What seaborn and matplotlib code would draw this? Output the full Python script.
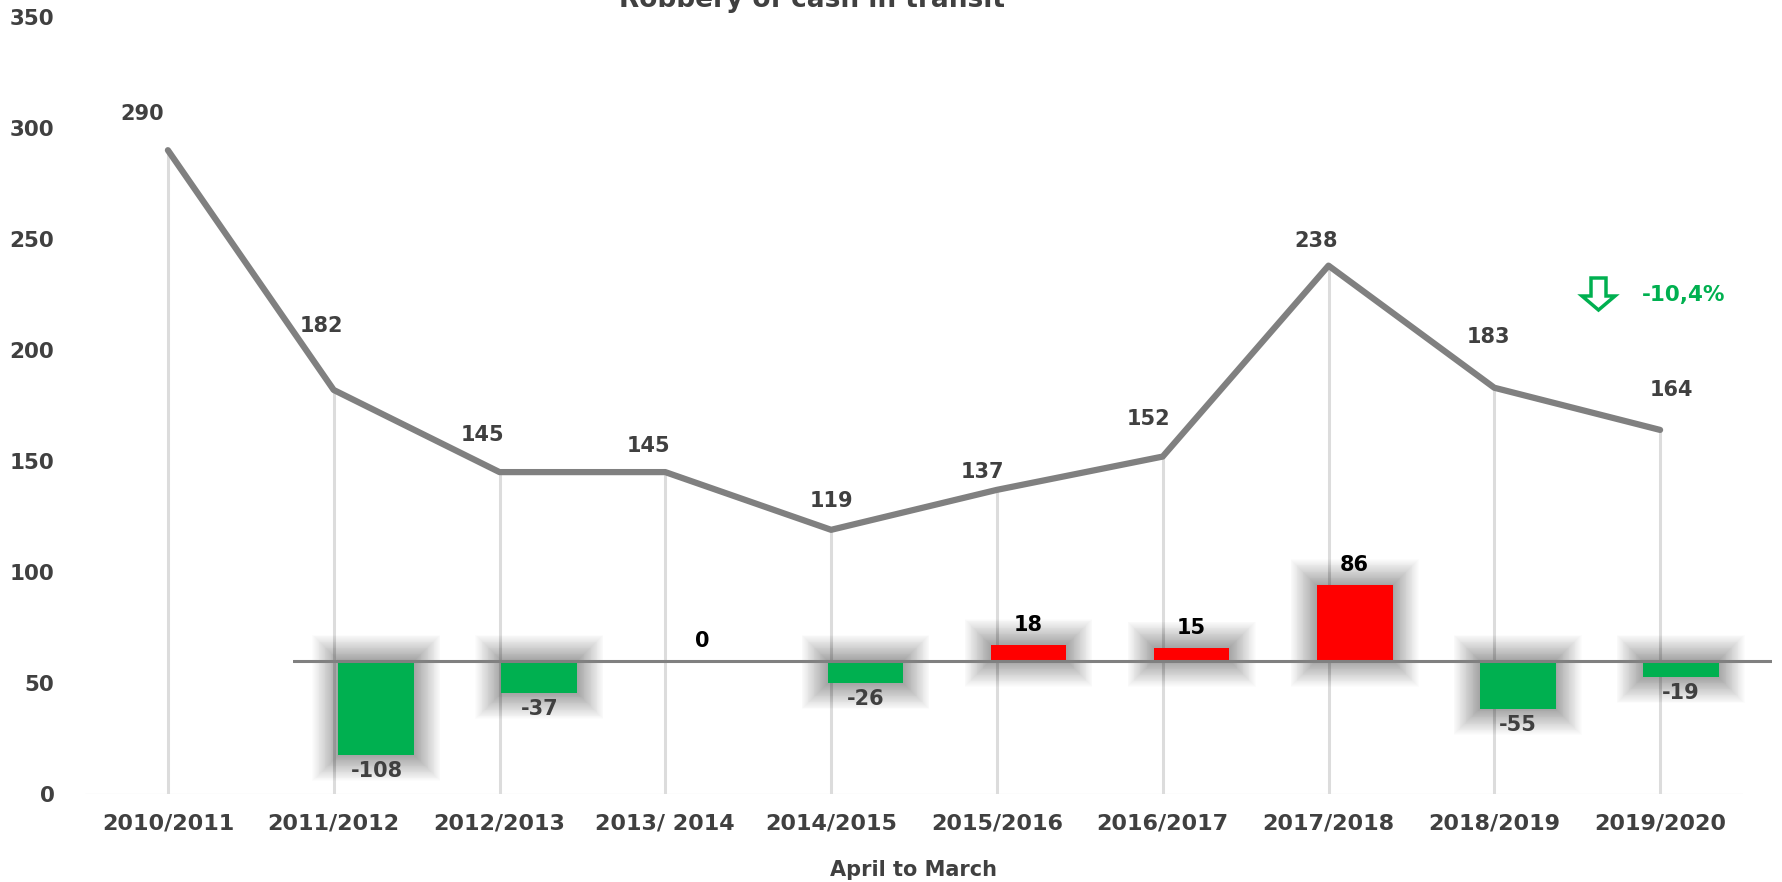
import matplotlib
matplotlib.use("Agg")
import matplotlib.pyplot as plt
import numpy as np
import pandas as pd
import seaborn as sns
from matplotlib.patches import Polygon

periods = ["2010/2011", "2011/2012", "2012/2013", "2013/ 2014", "2014/2015",
           "2015/2016", "2016/2017", "2017/2018", "2018/2019", "2019/2020"]
robberies = [290, 182, 145, 145, 119, 137, 152, 238, 183, 164]
changes = [-108, -37, 0, -26, 18, 15, 86, -55, -19]
trend_text = "-10,4%"

# label offsets in pixels (dx, dy) for the line labels
line_label_offsets = [(-26, 36), (-12, 64), (-17, 37), (-17, 26), (0, 29),
                      (-14, 18), (-14, 38), (-12, 25), (-6, 51), (11, 40)]

GREY = "#808080"
TEXT = "#404040"
GREEN = "#00b050"
RED = "#ff0000"
W, H = 1783, 882

sns.set_theme(style="white")
plt.rcParams["font.family"] = ["DejaVu Sans"]

fig = plt.figure(figsize=(W / 100, H / 100), dpi=100)
bottom = (H - 794) / H
height = 777 / H
ax = fig.add_axes([85 / W, bottom, (1743 - 85) / W, height])
ax2 = fig.add_axes([293 / W, bottom, (1772 - 293) / W, height])
ax2.patch.set_alpha(0)

x = np.arange(len(periods))
df = pd.DataFrame({"pos": x, "period": periods, "count": robberies})

# drop lines from each point to the axis
ax.vlines(df["pos"], 0, df["count"], color="#dcdcdc", lw=2.2, zorder=1)
sns.lineplot(data=df, x="pos", y="count", ax=ax, color=GREY, lw=4.5, zorder=3)
ax.axhline(0, color="#f0f0f0", lw=1, zorder=0)

for xi, yi, (dx, dy) in zip(x, robberies, line_label_offsets):
    ax.annotate(str(yi), (xi, yi), xytext=(dx, dy), textcoords="offset pixels",
                ha="center", va="center", fontsize=15, fontweight="bold", color=TEXT)

ax.set_xlim(-0.5, 9.5)
ax.set_ylim(0, 350)
ax.set_xticks(x)
ax.set_xticklabels(periods)
ax.set_yticks(range(0, 351, 50))
ax.tick_params(axis="x", length=0, pad=14, labelsize=16, labelcolor=TEXT)
ax.tick_params(axis="y", length=0, pad=22, labelsize=15.5, labelcolor=TEXT)
for lab in ax.get_xticklabels() + ax.get_yticklabels():
    lab.set_fontweight("bold")
ax.set_xlabel("April to March", fontsize=15, fontweight="bold", color=TEXT, va="center")
ax.xaxis.set_label_coords(0.5, -0.098)
ax.set_ylabel("")
sns.despine(ax=ax, left=True, bottom=True)

# change bars on their own axes
dfc = pd.DataFrame({"period": periods[1:], "change": changes,
                    "dir": ["up" if c >= 0 else "down" for c in changes]})
sns.barplot(data=dfc, x="period", y="change", hue="dir", palette={"up": RED, "down": GREEN},
            dodge=False, width=0.466, legend=False, ax=ax2, saturation=1,
            linewidth=0, edgecolor="none", zorder=2)

# soft shadow around the bars
px_x, px_y = 1 / 163, 1 / 0.875
for j, c in enumerate(changes):
    if c == 0:
        continue
    for s in np.linspace(1, 26, 30):
        lo, hi = min(0, c) - s * px_y, max(0, c) + s * px_y
        ax2.bar(j, hi - lo, bottom=lo, width=0.466 + 2 * s * px_x,
                color="black", alpha=0.011, lw=0, zorder=1)

ax2.axhline(0, color=GREY, lw=2.2, zorder=3)
for j, c in enumerate(changes):
    off = -16 if c < 0 else 20
    ax2.annotate(str(c), (j, c), xytext=(0, off), textcoords="offset pixels",
                 ha="center", va="center", fontsize=15, fontweight="bold",
                 color=TEXT if c < 0 else "black")
ax2.set_xlim(-0.512, 8.561)
ax2.set_ylim(-152.5, 736)
ax2.axis("off")

# title, partly cut at the top like the original
fig.text(812 / W, 1 - 7 / H, "Robbery of cash in transit", ha="center", va="baseline",
         fontsize=19, fontweight="bold", color=TEXT)

# trend marker
pts = [(1591, 278), (1606, 278), (1606, 296), (1615, 296), (1598.5, 310),
       (1582, 296), (1591, 296)]
arrow = Polygon([(px / W, 1 - py / H) for px, py in pts], closed=True,
                transform=fig.transFigure, facecolor="white", edgecolor=GREEN, lw=2.5)
fig.add_artist(arrow)
fig.text(1684 / W, 1 - 295 / H, trend_text, ha="center", va="center",
         fontsize=15.5, fontweight="bold", color=GREEN)

fig.savefig("out.png", dpi=100)
